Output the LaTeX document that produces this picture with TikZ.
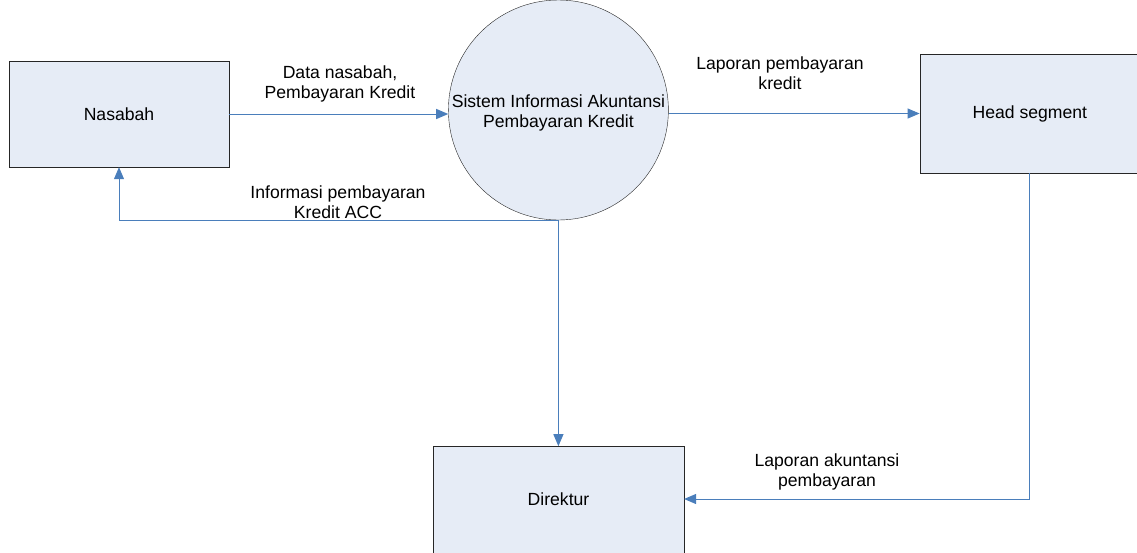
\documentclass[tikz,border=0pt]{standalone}
\usepackage{fontspec}
\setmainfont{Liberation Sans}
\usetikzlibrary{arrows.meta,positioning,calc}
\definecolor{boxfill}{HTML}{E6ECF6}
\definecolor{flowblue}{HTML}{4A7EBB}

\begin{document}
\begin{tikzpicture}[x=1pt, y=-1pt, >={Triangle[length=12pt,width=10pt]}, font=\fontsize{17.6}{20}\selectfont]
\tikzstyle{entity}=[draw=black!85, fill=boxfill, minimum width=220pt, minimum height=106pt, inner sep=0pt]
\tikzstyle{process}=[circle, draw=black!85, fill=boxfill, minimum size=220pt, inner sep=0pt]
\tikzstyle{flow}=[->, draw=flowblue, line width=1pt]
\tikzstyle{lbl}=[align=center, inner sep=0pt]
\useasboundingbox (0,0) rectangle (1137,552);
\node[entity]  (nasabah) at (119,114)                     {Nasabah};
\node[process] (sistem)  [right=219pt of nasabah, yshift=4pt]
      [label={[lbl, yshift=-3pt]center:Sistem Informasi Akuntansi\\Pembayaran Kredit}] {};
\node[entity, minimum height=119pt] (head) [right=251pt of sistem, yshift=-3.5pt] {Head segment};
\node[entity, minimum width=251pt, minimum height=110pt, anchor=north] (direktur) [below=226pt of sistem] {};
\node (lblDirektur) at (558.5,499) {Direktur};
% labels of the flows
\node[lbl] (lblData)    at (340,83.5) {Data nasabah,\\Pembayaran Kredit};
\node[lbl] (lblLapor)   at (780,73)   {Laporan pembayaran\\kredit};
\node[lbl] (lblInfo)    at (338,202)  {Informasi pembayaran\\Kredit ACC};
\node[lbl] (lblAkun)    at (827,472)  {Laporan akuntansi\\pembayaran};
\draw[flow] (nasabah.east) -- (nasabah.east -| sistem.west);
\draw[flow] (head.west -| sistem.east) -- (head.west);
\draw[flow] (sistem.south) -- (direktur.north);
\draw[flow] (sistem.south) -| (nasabah.south);
\draw[flow] (head.south) |- (lblDirektur -| direktur.east);
\end{tikzpicture}
\end{document}
